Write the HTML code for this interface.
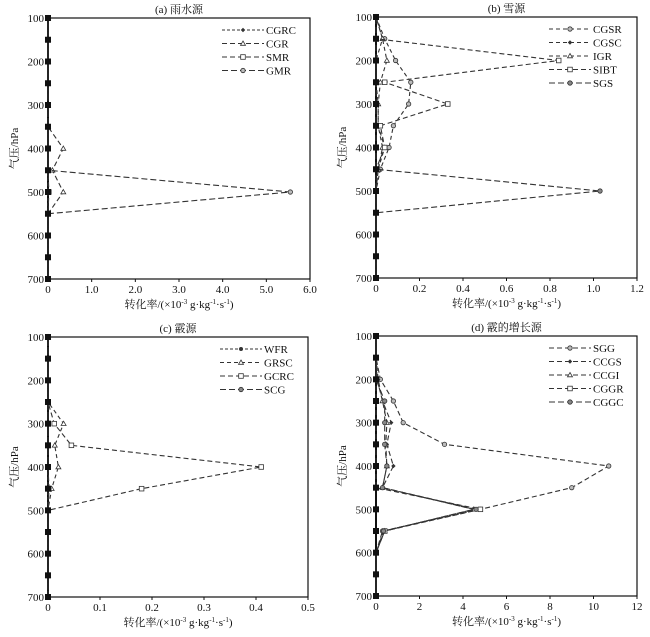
<!DOCTYPE html>
<html><head><meta charset="utf-8"><style>
body{margin:0;background:#fff}
svg text{font-family:"Liberation Serif","Noto Serif CJK SC",serif;fill:#111}
</style></head><body>
<svg id="fig" width="650" height="632" viewBox="0 0 650 632" xmlns="http://www.w3.org/2000/svg"></svg>
<script>
const pressures=[100,150,200,250,300,350,400,450,500,550,600,650,700];
const yTicks=[100,200,300,400,500,600,700];
// Panel a
const aTitle="(a) 雨水源";
const aXTicks=[0,1,2,3,4,5,6];
const aXLabels=["0","1.0","2.0","3.0","4.0","5.0","6.0"];
const aNames=["CGRC","CGR","SMR","GMR"];
const aCGRC=[0,0,0,0,0,0,0,0,0,0,0,0,0];
const aCGR=[0,0,0,0,0,0,0.35,0.1,0.35,0,0,0,0];
const aSMR=[0,0,0,0,0,0,0,0,0.02,0,0,0,0];
const aGMR=[0,0,0,0,0,0,0,0,5.55,0,0,0,0];
// Panel b
const bTitle="(b) 雪源";
const bXTicks=[0,0.2,0.4,0.6,0.8,1.0,1.2];
const bXLabels=["0","0.2","0.4","0.6","0.8","1.0","1.2"];
const bNames=["CGSR","CGSC","IGR","SIBT","SGS"];
const bCGSR=[0,0.04,0.09,0.16,0.15,0.08,0.06,0.02,0,0,0,0,0];
const bCGSC=[0,0.03,0.0,0.0,0.01,0.01,0.04,0.01,0,0,0,0,0];
const bIGR=[0,0.03,0.05,0.02,0.01,0.01,0.03,0.01,0,0,0,0,0];
const bSIBT=[0,0,0.84,0.04,0.33,0.02,0.04,0,0,0,0,0,0];
const bSGS=[0,0,0,0,0,0,0,0,1.03,0,0,0,0];
// Panel c
const cTitle="(c) 霰源";
const cXTicks=[0,0.1,0.2,0.3,0.4,0.5];
const cXLabels=["0","0.1","0.2","0.3","0.4","0.5"];
const cNames=["WFR","GRSC","GCRC","SCG"];
const cWFR=[0,0,0,0,0,0,0,0,0,0,0,0,0];
const cGRSC=[0,0,0,0,0.03,0.013,0.02,0.007,0,0,0,0,0];
const cGCRC=[0,0,0,0,0.012,0.045,0.41,0.18,0,0,0,0,0];
const cSCG=[0,0,0,0,0,0,0,0.002,0,0,0,0,0];
// Panel d
const dTitle="(d) 霰的增长源";
const dXTicks=[0,2,4,6,8,10,12];
const dXLabels=["0","2","4","6","8","10","12"];
const dNames=["SGG","CCGS","CCGI","CGGR","CGGC"];
const dSGG=[0,0,0.2,0.8,1.25,3.15,10.7,9.0,4.8,0.3,0,0,0];
const dCCGS=[0,0,0.1,0.3,0.7,0.5,0.8,0.3,4.5,0.4,0,0,0];
const dCCGI=[0,0,0.05,0.3,0.5,0.45,0.5,0.3,4.5,0.4,0,0,0];
const dCGGR=[0,0,0,0,0,0,0,0,4.8,0.4,0,0,0];
const dCGGC=[0,0,0,0.4,0.4,0.4,0.5,0.3,4.6,0.35,0,0,0];

const NS="http://www.w3.org/2000/svg";
const svg=document.getElementById('fig');
function mk(tag,attrs,parent){const e=document.createElementNS(NS,tag);for(const k in attrs)e.setAttribute(k,attrs[k]);(parent||svg).appendChild(e);return e;}
function marker(g,type,x,y,fill){
  let m;
  if(type==='circle')m=mk('circle',{cx:x,cy:y,r:2.2,fill:fill,stroke:'#333','stroke-width':0.8},g);
  else if(type==='diamond')m=mk('path',{d:`M${x} ${y-2.2}L${x+2.2} ${y}L${x} ${y+2.2}L${x-2.2} ${y}Z`,fill:'#333'},g);
  else if(type==='tri')m=mk('path',{d:`M${x} ${y-2.5}L${x+2.5} ${y+1.8}L${x-2.5} ${y+1.8}Z`,fill:fill,stroke:'#333','stroke-width':0.8},g);
  else if(type==='square')m=mk('rect',{x:x-2.3,y:y-2.3,width:4.6,height:4.6,fill:'#fff',stroke:'#333','stroke-width':0.8},g);
  else m=mk('circle',{cx:x,cy:y,r:2,fill:'#333'},g);
  
  
}
function panel(id,L,R,T,B,xmax,title,xt,xl,names,series,types,fills,dashes){
  const g=mk('g',{});
  
  
  const X=v=>L+(v/xmax)*(R-L);
  const Y=p=>T+(p-100)/600*(B-T);
  const t=mk('text',{x:(L+R)/2,y:T-5,'text-anchor':'middle','font-size':11},g);t.textContent=title;
  
  const fr=mk('rect',{x:L,y:T,width:R-L,height:B-T,fill:'none',stroke:'#111','stroke-width':1.2},g);
  
  mk('line',{x1:L,x2:L,y1:T,y2:B,stroke:'#111','stroke-width':2},g);
  yTicks.forEach(p=>{const tx=mk('text',{x:L-4,y:Y(p)+4,'text-anchor':'end','font-size':11},g);tx.textContent=p;
    
    mk('line',{x1:L-3,x2:L,y1:Y(p),y2:Y(p),stroke:'#111'},g);});
  xt.forEach((v,i)=>{const tx=mk('text',{x:X(v),y:B+14,'text-anchor':'middle','font-size':11},g);tx.textContent=xl[i];
    
    mk('line',{x1:X(v),x2:X(v),y1:B,y2:B+3,stroke:'#111'},g);});
  const xt2=mk('text',{x:(L+R)/2,y:B+29,'text-anchor':'middle','font-size':11},g);
  xt2.innerHTML='转化率/(×10<tspan dy="-4" font-size="7">-3</tspan><tspan dy="4"> g·kg</tspan><tspan dy="-4" font-size="7">-1</tspan><tspan dy="4">·s</tspan><tspan dy="-4" font-size="7">-1</tspan><tspan dy="4">)</tspan>';
  
  const yt=mk('text',{x:0,y:0,'text-anchor':'middle','font-size':11,transform:`translate(${L-30},${(T+B)/2}) rotate(-90)`},g);
  yt.textContent='气压/hPa';
  series.forEach((s,si)=>{
    const pts=s.map((v,i)=>X(v)+','+Y(pressures[i])).join(' ');
    const pl=mk('polyline',{points:pts,fill:'none',stroke:'#333','stroke-width':1.1,'stroke-dasharray':dashes[si],'stroke-dashoffset':si*2},g);
    
    s.forEach((v,i)=>marker(g,types[si],X(v),Y(pressures[i]),fills[si]));
  });
  pressures.forEach(p=>{const r=mk('rect',{x:L-3,y:Y(p)-3,width:6,height:6,fill:'#111'},g);
    });
  const lx=R-88, ly=T+12;
  names.forEach((n,i)=>{
    const yy=ly+i*13.5;
    const le=mk('g',{},g);
    mk('line',{x1:lx,x2:lx+42,y1:yy,y2:yy,stroke:'#333','stroke-width':1.1,'stroke-dasharray':dashes[i]},le);
    marker(le,types[i],lx+21,yy,fills[i]);
    const tx=mk('text',{x:lx+44,y:yy+4,'font-size':11},le);tx.textContent=n;
  });
}
panel('a',48,310,18,279,6,aTitle,aXTicks,aXLabels,aNames,[aCGRC,aCGR,aSMR,aGMR],
 ['diamond','tri','square','circle'],['#333','#fff','#fff','#bbb'],['3,2','5,3','5,3','6,3']);
panel('b',376,637,17,278,1.2,bTitle,bXTicks,bXLabels,bNames,[bCGSR,bCGSC,bIGR,bSIBT,bSGS],
 ['circle','diamond','tri','square','circle'],['#bbb','#333','#fff','#fff','#888'],['4,3','4,3','4,3','5,3','6,3']);
panel('c',48,308,337,597,0.5,cTitle,cXTicks,cXLabels,cNames,[cWFR,cGRSC,cGCRC,cSCG],
 ['dot','tri','square','circle'],['#333','#fff','#fff','#888'],['3,2','4,3','5,3','6,3']);
panel('d',376,637,336,596,12,dTitle,dXTicks,dXLabels,dNames,[dSGG,dCCGS,dCCGI,dCGGR,dCGGC],
 ['circle','diamond','tri','square','circle'],['#bbb','#333','#fff','#fff','#888'],['5,3','5,3','5,3','5,3','6,3']);
</script>
</body></html>
